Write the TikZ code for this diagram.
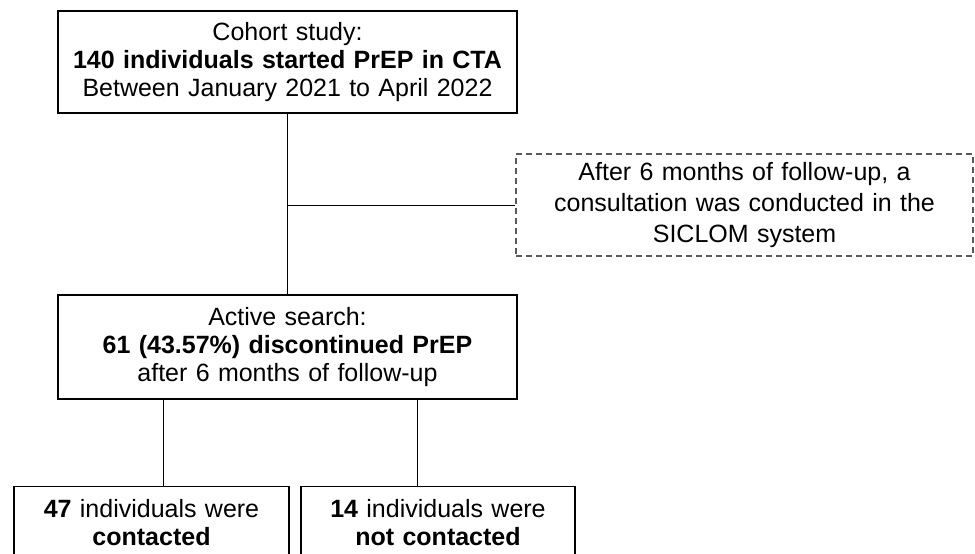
\documentclass[tikz,border=0pt]{standalone}
\usepackage{fontspec}
\setmainfont{Liberation Sans}
\begin{document}
\begin{tikzpicture}[x=1pt,y=-1pt,
  box/.style={draw, line width=1.2pt, align=center, inner xsep=4pt, font=\fontsize{25}{28}\selectfont},
  notebox/.style={box, draw=black!65, dash pattern=on 6pt off 4pt, font=\fontsize{25}{31}\selectfont},
  link/.style={line width=0.8pt}]
% Fix the page size
\useasboundingbox (0,0) rectangle (975,554);

% Draw the boxes and insert the texts
\node[box, text width=451pt, minimum height=102pt] (cohort) at (287.5,62) {Cohort study:\\ \textbf{140 individuals started PrEP in CTA}\\ Between January 2021 to April 2022};
\node[notebox, text width=449pt, minimum height=102pt] (consult) at (744.5,205) {After 6 months of follow-up, a\\ consultation was conducted in the\\ SICLOM system};
\node[box, text width=451pt, minimum height=104pt] (search) at (287.5,347) {Active search:\\ \textbf{61 (43.57\%) discontinued PrEP}\\ after 6 months of follow-up};
\node[box, anchor=north, text width=267pt, inner ysep=13pt] (contacted) at (151.5,486) {\textbf{47} individuals were\\ \textbf{contacted}};
\node[box, anchor=north, text width=266pt, inner ysep=13pt] (notcontacted) at (438,486) {\textbf{14} individuals were\\ \textbf{not contacted}};

% Draw the connectors
\draw[link] (cohort.south) -- (search.north);
\coordinate (tap) at (cohort.south |- consult.west);
\draw[link] (tap) -- (consult.west);
\coordinate (leftfoot) at ([xshift=11.5pt]contacted.north);
\coordinate (rightfoot) at ([xshift=-21pt]notcontacted.north);
\draw[link] (leftfoot |- search.south) -- (leftfoot);
\draw[link] (rightfoot |- search.south) -- (rightfoot);
\end{tikzpicture}
\end{document}
